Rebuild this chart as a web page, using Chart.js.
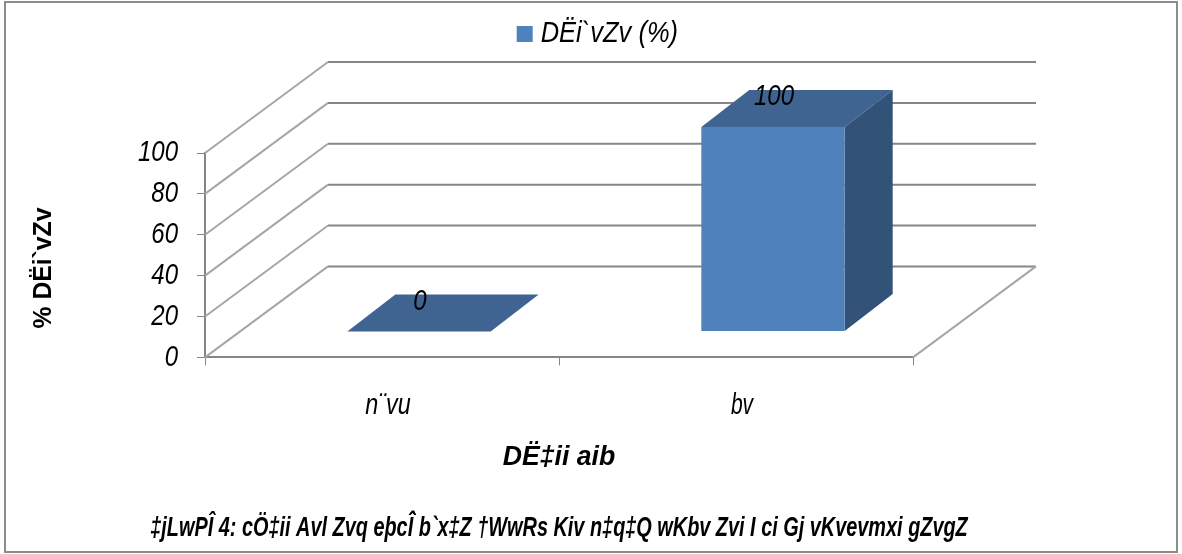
<!DOCTYPE html>
<html>
<head>
<meta charset="utf-8">
<style>
  html,body{margin:0;padding:0;background:#fff;overflow:hidden}
  #wrap{position:relative;width:1182px;height:554px}
</style>
<script src="https://cdn.jsdelivr.net/npm/chart.js@4"></script>
</head>
<body>
<div id="wrap"><canvas id="myChart" width="1182" height="554"></canvas></div>
<script>
var categorias = ['n¨vu', 'bv'];
var valores = [0, 100];
var valoresEixo = [0, 20, 40, 60, 80, 100];
var nomeSerie = 'DËi`vZv (%)';
var tituloX = 'DË‡ii aib';
var tituloY = '% DËi`vZv';
var legenda = '‡jLwPÎ 4: cÖ‡ii Avl Zvq eþcÎ̂ b`x‡Z †WwRs Kiv n‡q‡Q wKbv Zvi I ci Gj vKvevmxi gZvgZ';

var FONTE = '"Liberation Sans",sans-serif';
var CINZA = '#868686';

// depth of the fake 3D box, wall and bars
var fundoX = 123, fundoY = -91;
var barraX = 37, barraY = -26;
var ladoX = 48, ladoY = -37;

// no narrow font installed, so text gets squeezed sideways when drawn
var aperto = {};
aperto[nomeSerie] = { k: 0.85, dx: -7 };
aperto[categorias[0]] = { k: 0.78, dx: 0 };
aperto[categorias[1]] = { k: 0.7, dx: 0 };
aperto[tituloX] = { k: 0.95, dx: 0 };
aperto[tituloY] = { k: 0.95, dx: 0 };
aperto[legenda] = { k: 0.71, dx: 0 };

const fake3d = {
  id: 'fake3d',
  beforeInit(chart) {
    // legend takes more room than it needs, so the plot starts lower
    const fit = chart.legend.fit;
    chart.legend.fit = function () { fit.call(this); this.height += 94; };
    const c = chart.ctx, original = c.fillText;
    c.fillText = function (t, x, y) {
      const a = aperto[t] || { k: 0.8, dx: 0 };
      this.save();
      this.translate(x + a.dx, y);
      this.scale(a.k, 1);
      original.call(this, t, 0, 0);
      this.restore();
    };
  },
  beforeDatasetsDraw(chart) {
    const c = chart.ctx, y = chart.scales.y, x = chart.scales.x;
    c.save();
    c.lineWidth = 2;
    valoresEixo.forEach((v) => {
      const py = y.getPixelForValue(v);
      c.strokeStyle = CINZA;
      c.beginPath();
      c.moveTo(x.left + fundoX, py + fundoY);
      c.lineTo(x.right + fundoX, py + fundoY);
      c.stroke();
      c.strokeStyle = '#a6a6a6';
      c.beginPath();
      c.moveTo(x.left, py);
      c.lineTo(x.left + fundoX, py + fundoY);
      c.stroke();
    });
    const p0 = y.getPixelForValue(0);
    c.strokeStyle = '#a6a6a6';
    c.beginPath();
    c.moveTo(x.right, p0);
    c.lineTo(x.right + fundoX, p0 + fundoY);
    c.stroke();
    c.restore();

    // top and side faces of the bars
    chart.getDatasetMeta(0).data.forEach((b) => {
      const e = b.x - b.width / 2 + barraX, d = b.x + b.width / 2 + barraX;
      const t = b.y + barraY, f = b.base + barraY;
      c.save();
      c.fillStyle = '#3f6491';
      c.beginPath();
      c.moveTo(e, t);
      c.lineTo(e + ladoX, t + ladoY);
      c.lineTo(d + ladoX, t + ladoY);
      c.lineTo(d, t);
      c.closePath();
      c.fill();
      if (f > t) {
        c.fillStyle = '#325278';
        c.beginPath();
        c.moveTo(d, t);
        c.lineTo(d + ladoX, t + ladoY);
        c.lineTo(d + ladoX, f + ladoY);
        c.lineTo(d, f);
        c.closePath();
        c.fill();
      }
      c.restore();
    });
    c.save();
    c.translate(barraX, barraY);
  },
  afterDatasetsDraw(chart) {
    const c = chart.ctx;
    c.restore();
    c.save();
    c.fillStyle = '#000';
    c.textAlign = 'center';
    c.textBaseline = 'middle';
    c.font = 'italic 30px ' + FONTE;
    chart.getDatasetMeta(0).data.forEach((b, i) => {
      c.fillText(valores[i], b.x + barraX + 1, b.y + barraY - 30);
    });
    c.restore();
  },
  afterDraw(chart) {
    const c = chart.ctx;
    c.save();
    c.fillStyle = '#000';
    c.textAlign = 'center';
    c.textBaseline = 'middle';
    c.font = 'italic bold 28px ' + FONTE;
    c.fillText(legenda, (chart.scales.x.left + chart.scales.x.right) / 2, 528);
    c.translate(44, 268);
    c.rotate(-Math.PI / 2);
    c.font = 'bold 26px ' + FONTE;
    c.fillText(tituloY, 0, 0);
    c.restore();
    // outer frame
    c.save();
    c.strokeStyle = '#8c8c8c';
    c.lineWidth = 2;
    c.strokeRect(5, 2, 1172, 550);
    c.restore();
  }
};

new Chart(document.getElementById('myChart'), {
  type: 'bar',
  data: {
    labels: categorias,
    datasets: [{
      label: nomeSerie,
      data: valores,
      backgroundColor: '#4f81bd',
      barPercentage: 0.405,
      categoryPercentage: 1
    }]
  },
  options: {
    responsive: false,
    animation: false,
    layout: { padding: { top: 11, left: 44, right: 0, bottom: 80 } },
    plugins: {
      tooltip: { enabled: false },
      legend: {
        position: 'top',
        labels: {
          boxWidth: 16, boxHeight: 16,
          color: '#000',
          padding: 8,
          font: { family: FONTE, size: 30, style: 'italic' }
        }
      }
    },
    scales: {
      x: {
        grid: { drawOnChartArea: false, color: CINZA, tickLength: 8, offset: true },
        border: { color: CINZA, width: 2 },
        ticks: { color: '#000', padding: 22, labelOffset: 6, font: { family: FONTE, size: 30, style: 'italic' } },
        title: { display: true, text: tituloX, color: '#000', padding: { top: -5, bottom: 0 }, font: { family: FONTE, size: 28, style: 'italic', weight: 'bold' } }
      },
      y: {
        min: 0, max: 100,
        afterFit(s) { s.width = 161; },
        afterBuildTicks(s) { s.ticks = valoresEixo.map((v) => ({ value: v })); },
        grid: { drawOnChartArea: false, color: CINZA, tickLength: 8 },
        border: { color: CINZA, width: 2 },
        ticks: { color: '#000', padding: 19, font: { family: FONTE, size: 30, style: 'italic' } }
      },
      margem: {
        position: 'right',
        afterFit(s) { s.width = 269; },
        grid: { display: false },
        border: { display: false },
        ticks: { display: false }
      }
    }
  },
  plugins: [fake3d]
});
</script>
</body>
</html>
